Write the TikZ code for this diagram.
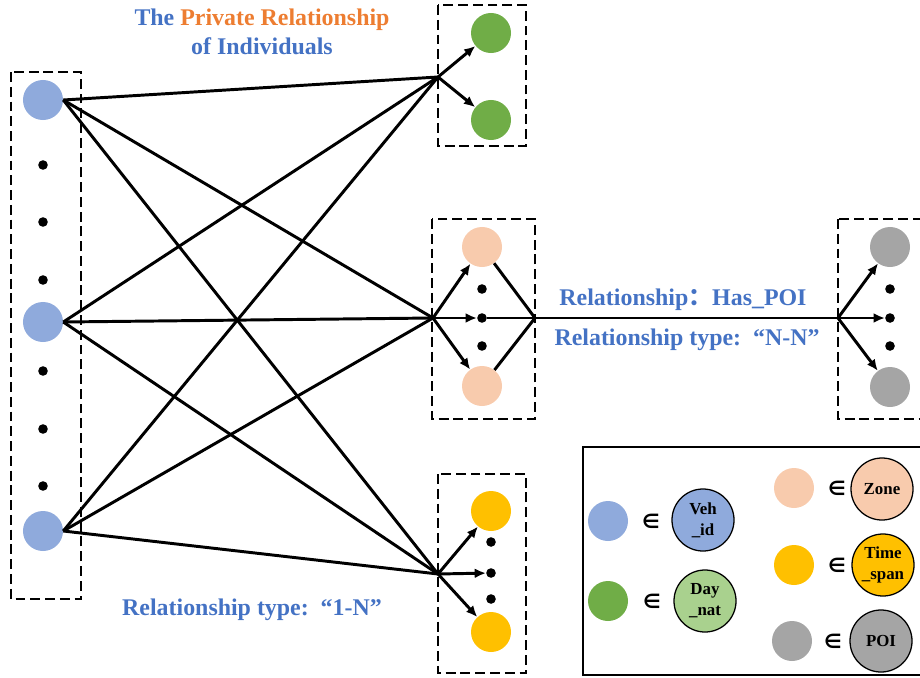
\documentclass[tikz,border=0pt]{standalone}
\usepackage{fontspec}
\setmainfont{Liberation Serif}
\newfontfamily\cjk{Noto Sans CJK SC}
\newfontfamily\symb{DejaVu Sans}
\usetikzlibrary{arrows.meta,positioning}
\definecolor{vehblue}{HTML}{8FAADC}
\definecolor{daygreen}{HTML}{70AD47}
\definecolor{daylight}{HTML}{A9D18E}
\definecolor{zonepeach}{HTML}{F8CBAD}
\definecolor{timeyellow}{HTML}{FFC000}
\definecolor{poigray}{HTML}{A5A5A5}
\definecolor{txtblue}{HTML}{4472C4}
\definecolor{txtorange}{HTML}{ED7D31}
\tikzset{
    ent/.style = {circle, fill=#1, inner sep=0pt, minimum size=1cm},
    pt/.style = {circle, fill=black, inner sep=0pt, minimum size=0.24cm},
    frame/.style = {draw, dash pattern=on 7pt off 3.5pt, line width=1.2pt},
    link/.style = {line width=2.1pt},
    arr/.style = {line width=2.1pt, -{Latex[length=8pt,width=7pt]}},
    key/.style = {circle, draw, line width=0.9pt, fill=#1, inner sep=0pt, minimum size=1.55cm,
        align=center, font=\bfseries\fontsize{12}{15}\selectfont},
    elem/.style = {font=\symb\bfseries\fontsize{14}{14}\selectfont},
    lbl/.style = {font=\bfseries\fontsize{17}{21}\selectfont, text=txtblue, align=center}
}

\begin{document}
\begin{tikzpicture}[x=0.025cm, y=-0.025cm]
    \useasboundingbox (0,0) rectangle (920,677);

    % Frames
    \draw[frame] (11,72) rectangle (81,599);
    \draw[frame] (438,5) rectangle (526,146);
    \draw[frame] (432,219) rectangle (535,419);
    \draw[frame] (838,219) rectangle (924,419);
    \draw[frame] (438,474) rectangle (526,673);

    % Vehicles
    \node[ent=vehblue] (v1) at (43,100) {};
    \node[ent=vehblue] (v2) at (43,322) {};
    \node[ent=vehblue] (v3) at (43,531) {};
    \foreach \y in {165,222,280,371,429,486}
        \node[pt] (vd\y) at (43,\y) {};

    % Days
    \node[ent=daygreen] (d1) at (491,33) {};
    \node[ent=daygreen] (d2) at (491,120) {};
    \coordinate (hd) at (438,77);

    % Zones
    \node[ent=zonepeach] (z1) at (482,247) {};
    \node[ent=zonepeach] (z2) at (482,386) {};
    \node[pt] (zu) at (482,289) {};
    \node[pt] (zm) at (482,318) {};
    \node[pt] (zl) at (482,346) {};
    \coordinate (hz) at (433,318);
    \coordinate (hr) at (535,318);

    % POIs
    \node[ent=poigray] (p1) at (890,247) {};
    \node[ent=poigray] (p2) at (890,387) {};
    \node[pt] (pu) at (890,289) {};
    \node[pt] (pm) at (890,318) {};
    \node[pt] (pl) at (890,346) {};
    \coordinate (hp) at (838,318);

    % Time spans
    \node[ent=timeyellow] (t1) at (491,511) {};
    \node[ent=timeyellow] (t2) at (491,632) {};
    \node[pt] (tu) at (491,542) {};
    \node[pt] (tm) at (491,573) {};
    \node[pt] (tl) at (491,599) {};
    \coordinate (ht) at (438,574);

    % Links
    \foreach \v in {v1,v2,v3}
        \foreach \h in {hd,hz,ht}
            \draw[link] (\v.east) -- (\h);
    \draw[arr] (hd) -- (d1);
    \draw[arr] (hd) -- (d2);
    \draw[arr] (hz) -- (z1);
    \draw[arr] (hz) -- (zm);
    \draw[arr] (hz) -- (z2);
    \draw[link] (z1) -- (hr) -- (z2);
    \draw[link] (zm) -- (hp);
    \draw[arr] (hp) -- (p1);
    \draw[arr] (hp) -- (pm);
    \draw[arr] (hp) -- (p2);
    \draw[arr] (ht) -- (t1);
    \draw[arr] (ht) -- (tm);
    \draw[arr] (ht) -- (t2);

    % Labels
    \node[lbl] (title) at (262,32) {The \textcolor{txtorange}{Private Relationship}\\of Individuals};
    \node[lbl] (has) at (683,300) {Relationship{\cjk ：}Has\_POI};
    \node[lbl] (nn) at (687,340) {Relationship type:\hspace{0.5em}“N-N”};
    \node[lbl] (one) at (252,610) {Relationship type:\hspace{0.5em}“1-N”};

    % Legend
    \draw[line width=1.2pt] (583,447) rectangle (924,675);
    \node[ent=vehblue] (lv) at (608,521) {};
    \node[elem] (ev) at (651,521) {∈};
    \node[key=vehblue] (kv) at (703,520) {Veh\\\_id};
    \node[ent=daygreen] (ld) at (608,601) {};
    \node[elem] (ed) at (652,601) {∈};
    \node[key=daylight] (kd) at (705,601) {Day\\\_nat};
    \node[ent=zonepeach] (lz) at (794,488) {};
    \node[elem] (ez) at (837,488) {∈};
    \node[key=zonepeach] (kz) at (882,489) {Zone};
    \node[ent=timeyellow] (lt) at (794,565) {};
    \node[elem] (et) at (837,565) {∈};
    \node[key=timeyellow] (kt) at (883,565) {Time\\\_span};
    \node[ent=poigray] (lp) at (792,641) {};
    \node[elem] (ep) at (833,641) {∈};
    \node[key=poigray] (kp) at (881,641) {POI};

\end{tikzpicture}
\end{document}
